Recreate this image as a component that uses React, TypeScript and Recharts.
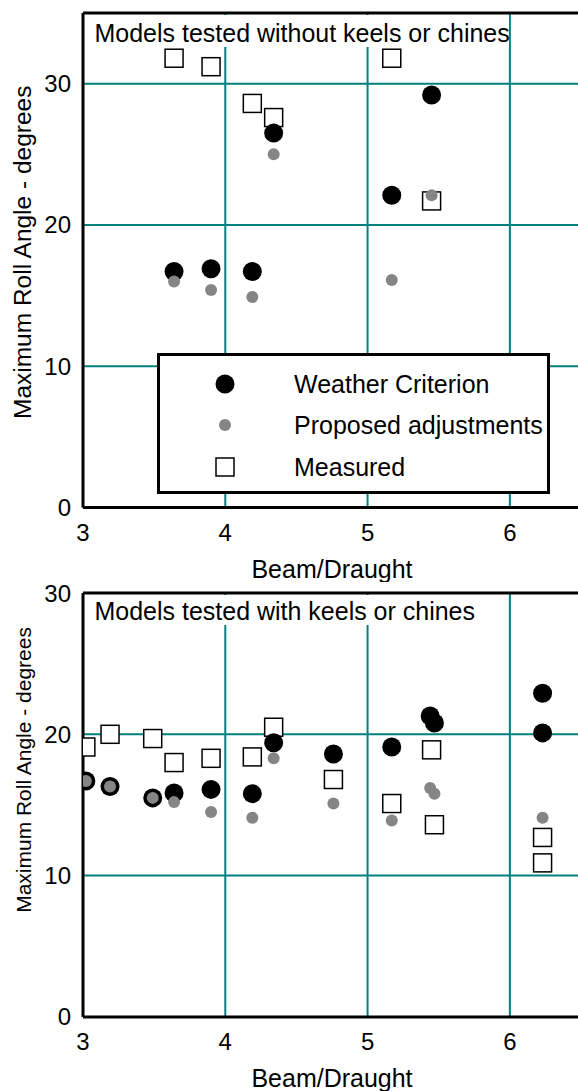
import { ScatterChart, Scatter, XAxis, YAxis, CartesianGrid, ReferenceLine, Legend } from 'recharts';

const xTicks = [3, 4, 5, 6];
const yTicks = [0, 10, 20, 30];
const xLabel = 'Beam/Draught';
const yLabel = 'Maximum Roll Angle - degrees';
const topTitle = 'Models tested without keels or chines';
const bottomTitle = 'Models tested with keels or chines';
const seriesNames = ['Weather Criterion', 'Proposed adjustments', 'Measured'];

// without keels or chines
const topBeam = [3.64, 3.9, 4.19, 4.34, 5.17, 5.45];
const topWeather = [16.7, 16.9, 16.7, 26.5, 22.1, 29.2];
const topProposed = [16.0, 15.4, 14.9, 25.0, 16.1, 22.1];
const topMeasured = [31.8, 31.2, 28.6, 27.6, 31.8, 21.7];

// with keels or chines
const botWeatherX = [3.02, 3.19, 3.49, 3.64, 3.9, 4.19, 4.34, 4.76, 5.17, 5.44, 5.47, 6.23, 6.23];
const botWeather = [16.7, 16.3, 15.5, 15.85, 16.1, 15.8, 19.4, 18.6, 19.1, 21.3, 20.8, 22.9, 20.1];
const botProposedX = [3.02, 3.19, 3.49, 3.64, 3.9, 4.19, 4.34, 4.76, 5.17, 5.44, 5.47, 6.23];
const botProposed = [16.7, 16.3, 15.5, 15.2, 14.5, 14.1, 18.3, 15.1, 13.9, 16.2, 15.8, 14.1];
const botMeasuredX = [3.02, 3.19, 3.49, 3.64, 3.9, 4.19, 4.34, 4.76, 5.17, 5.45, 5.47, 6.23, 6.23];
const botMeasured = [19.1, 20.0, 19.7, 18.0, 18.3, 18.4, 20.5, 16.8, 15.1, 18.9, 13.6, 12.7, 10.9];

const pts = (xs: number[], ys: number[]) => xs.map((x, i) => ({ x, y: ys[i] }));

const TEAL = '#008080';
const GREY = '#858585';
const FONT = '"Liberation Sans", Arial, sans-serif';

const BigDot = (p: any) => <circle cx={p.cx} cy={p.cy} r={9.5} fill="#000" />;
const SmallDot = (p: any) => <circle cx={p.cx} cy={p.cy} r={6} fill={GREY} />;
const Box = (p: any) => (
  <rect x={p.cx - 9} y={p.cy - 9} width={18} height={18} fill="#fff" stroke="#000" strokeWidth={1.5} />
);

const TitleBox = ({ vb, text, w, h, base }: any) => (
  <g>
    <rect x={vb.x + 2} y={vb.y + 2} width={w} height={h} fill="#fff" />
    <text x={vb.x + 11.5} y={vb.y + base} fontSize={25} fill="#000" fontFamily={FONT}>
      {text}
    </text>
  </g>
);

const YTitle = ({ vb, shift, size }: any) => {
  const cx = 31.5;
  const cy = vb.y + vb.height / 2 + shift;
  return (
    <text x={cx} y={cy} transform={`rotate(-90 ${cx} ${cy})`} textAnchor="middle" fontSize={size} fill="#000" fontFamily={FONT}>
      {yLabel}
    </text>
  );
};

const LegendBox = () => {
  const rows = [31, 72, 114];
  return (
    <svg width={393} height={141} style={{ display: 'block' }}>
      <rect x={1.5} y={1.5} width={390} height={138} fill="#fff" stroke="#000" strokeWidth={3} />
      <BigDot cx={68} cy={rows[0]} />
      <SmallDot cx={68} cy={rows[1]} />
      <Box cx={68} cy={rows[2]} />
      {seriesNames.map((n, i) => (
        <text key={n} x={137} y={rows[i] + 9} fontSize={25} fill="#000" fontFamily={FONT}>
          {n}
        </text>
      ))}
    </svg>
  );
};

function Panel({ ymax, title, titleW, titleH, titleBase, weather, proposed, measured, legend, labelShift, labelSize }: any) {
  return (
    <ScatterChart width={581} height={13 + ymax * 14.13 + 74} margin={{ top: 13, right: 0, bottom: 0, left: 0 }}>
      <CartesianGrid stroke={TEAL} strokeWidth={2} />
      <XAxis
        type="number"
        dataKey="x"
        domain={[3, 6.5]}
        ticks={xTicks}
        interval={0}
        allowDataOverflow
        height={74}
        axisLine={{ stroke: '#000', strokeWidth: 3 }}
        tickLine={false}
        tickSize={6}
        tickMargin={10}
        tick={{ fill: '#000', fontSize: 24, fontFamily: FONT }}
        label={{ value: xLabel, position: 'insideBottom', offset: 4, fill: '#000', fontSize: 25, fontFamily: FONT }}
      />
      <YAxis
        type="number"
        dataKey="y"
        domain={[0, ymax]}
        ticks={yTicks}
        interval={0}
        allowDataOverflow
        width={83}
        axisLine={{ stroke: '#000', strokeWidth: 3 }}
        tickLine={false}
        tickSize={6}
        tickMargin={6}
        tick={{ fill: '#000', fontSize: 24, fontFamily: FONT }}
        label={{ content: (p: any) => <YTitle vb={p.viewBox} shift={labelShift} size={labelSize} /> }}
      />
      <ReferenceLine
        y={ymax}
        stroke="#000"
        strokeWidth={3}
        label={{ content: (p: any) => <TitleBox vb={p.viewBox} text={title} w={titleW} h={titleH} base={titleBase} /> }}
      />
      <Scatter name={seriesNames[2]} data={measured} shape={Box} isAnimationActive={false} />
      <Scatter name={seriesNames[0]} data={weather} shape={BigDot} isAnimationActive={false} />
      <Scatter name={seriesNames[1]} data={proposed} shape={SmallDot} isAnimationActive={false} />
      {legend && (
        <Legend
          layout="vertical"
          align="center"
          verticalAlign="middle"
          wrapperStyle={{ left: 157, top: 353, width: 393, height: 141 }}
          content={() => <LegendBox />}
        />
      )}
    </ScatterChart>
  );
}

export default function App() {
  return (
    <div style={{ position: 'absolute', left: 0, top: 0, width: 578, height: 1091, overflow: 'hidden', background: '#fff', fontFamily: FONT }}>
      <div style={{ position: 'absolute', left: 0, top: 0 }}>
        <Panel
          ymax={35}
          title={topTitle}
          titleW={424}
          titleH={32}
          titleBase={29}
          weather={pts(topBeam, topWeather)}
          proposed={pts(topBeam, topProposed)}
          measured={pts(topBeam, topMeasured)}
          legend
          labelShift={-8}
          labelSize={24.5}
        />
      </div>
      <div style={{ position: 'absolute', left: 0, top: 580 }}>
        <Panel
          ymax={30}
          title={bottomTitle}
          titleW={400}
          titleH={30}
          titleBase={27}
          weather={pts(botWeatherX, botWeather)}
          proposed={pts(botProposedX, botProposed)}
          measured={pts(botMeasuredX, botMeasured)}
          legend={false}
          labelShift={-35}
          labelSize={21}
        />
      </div>
    </div>
  );
}
